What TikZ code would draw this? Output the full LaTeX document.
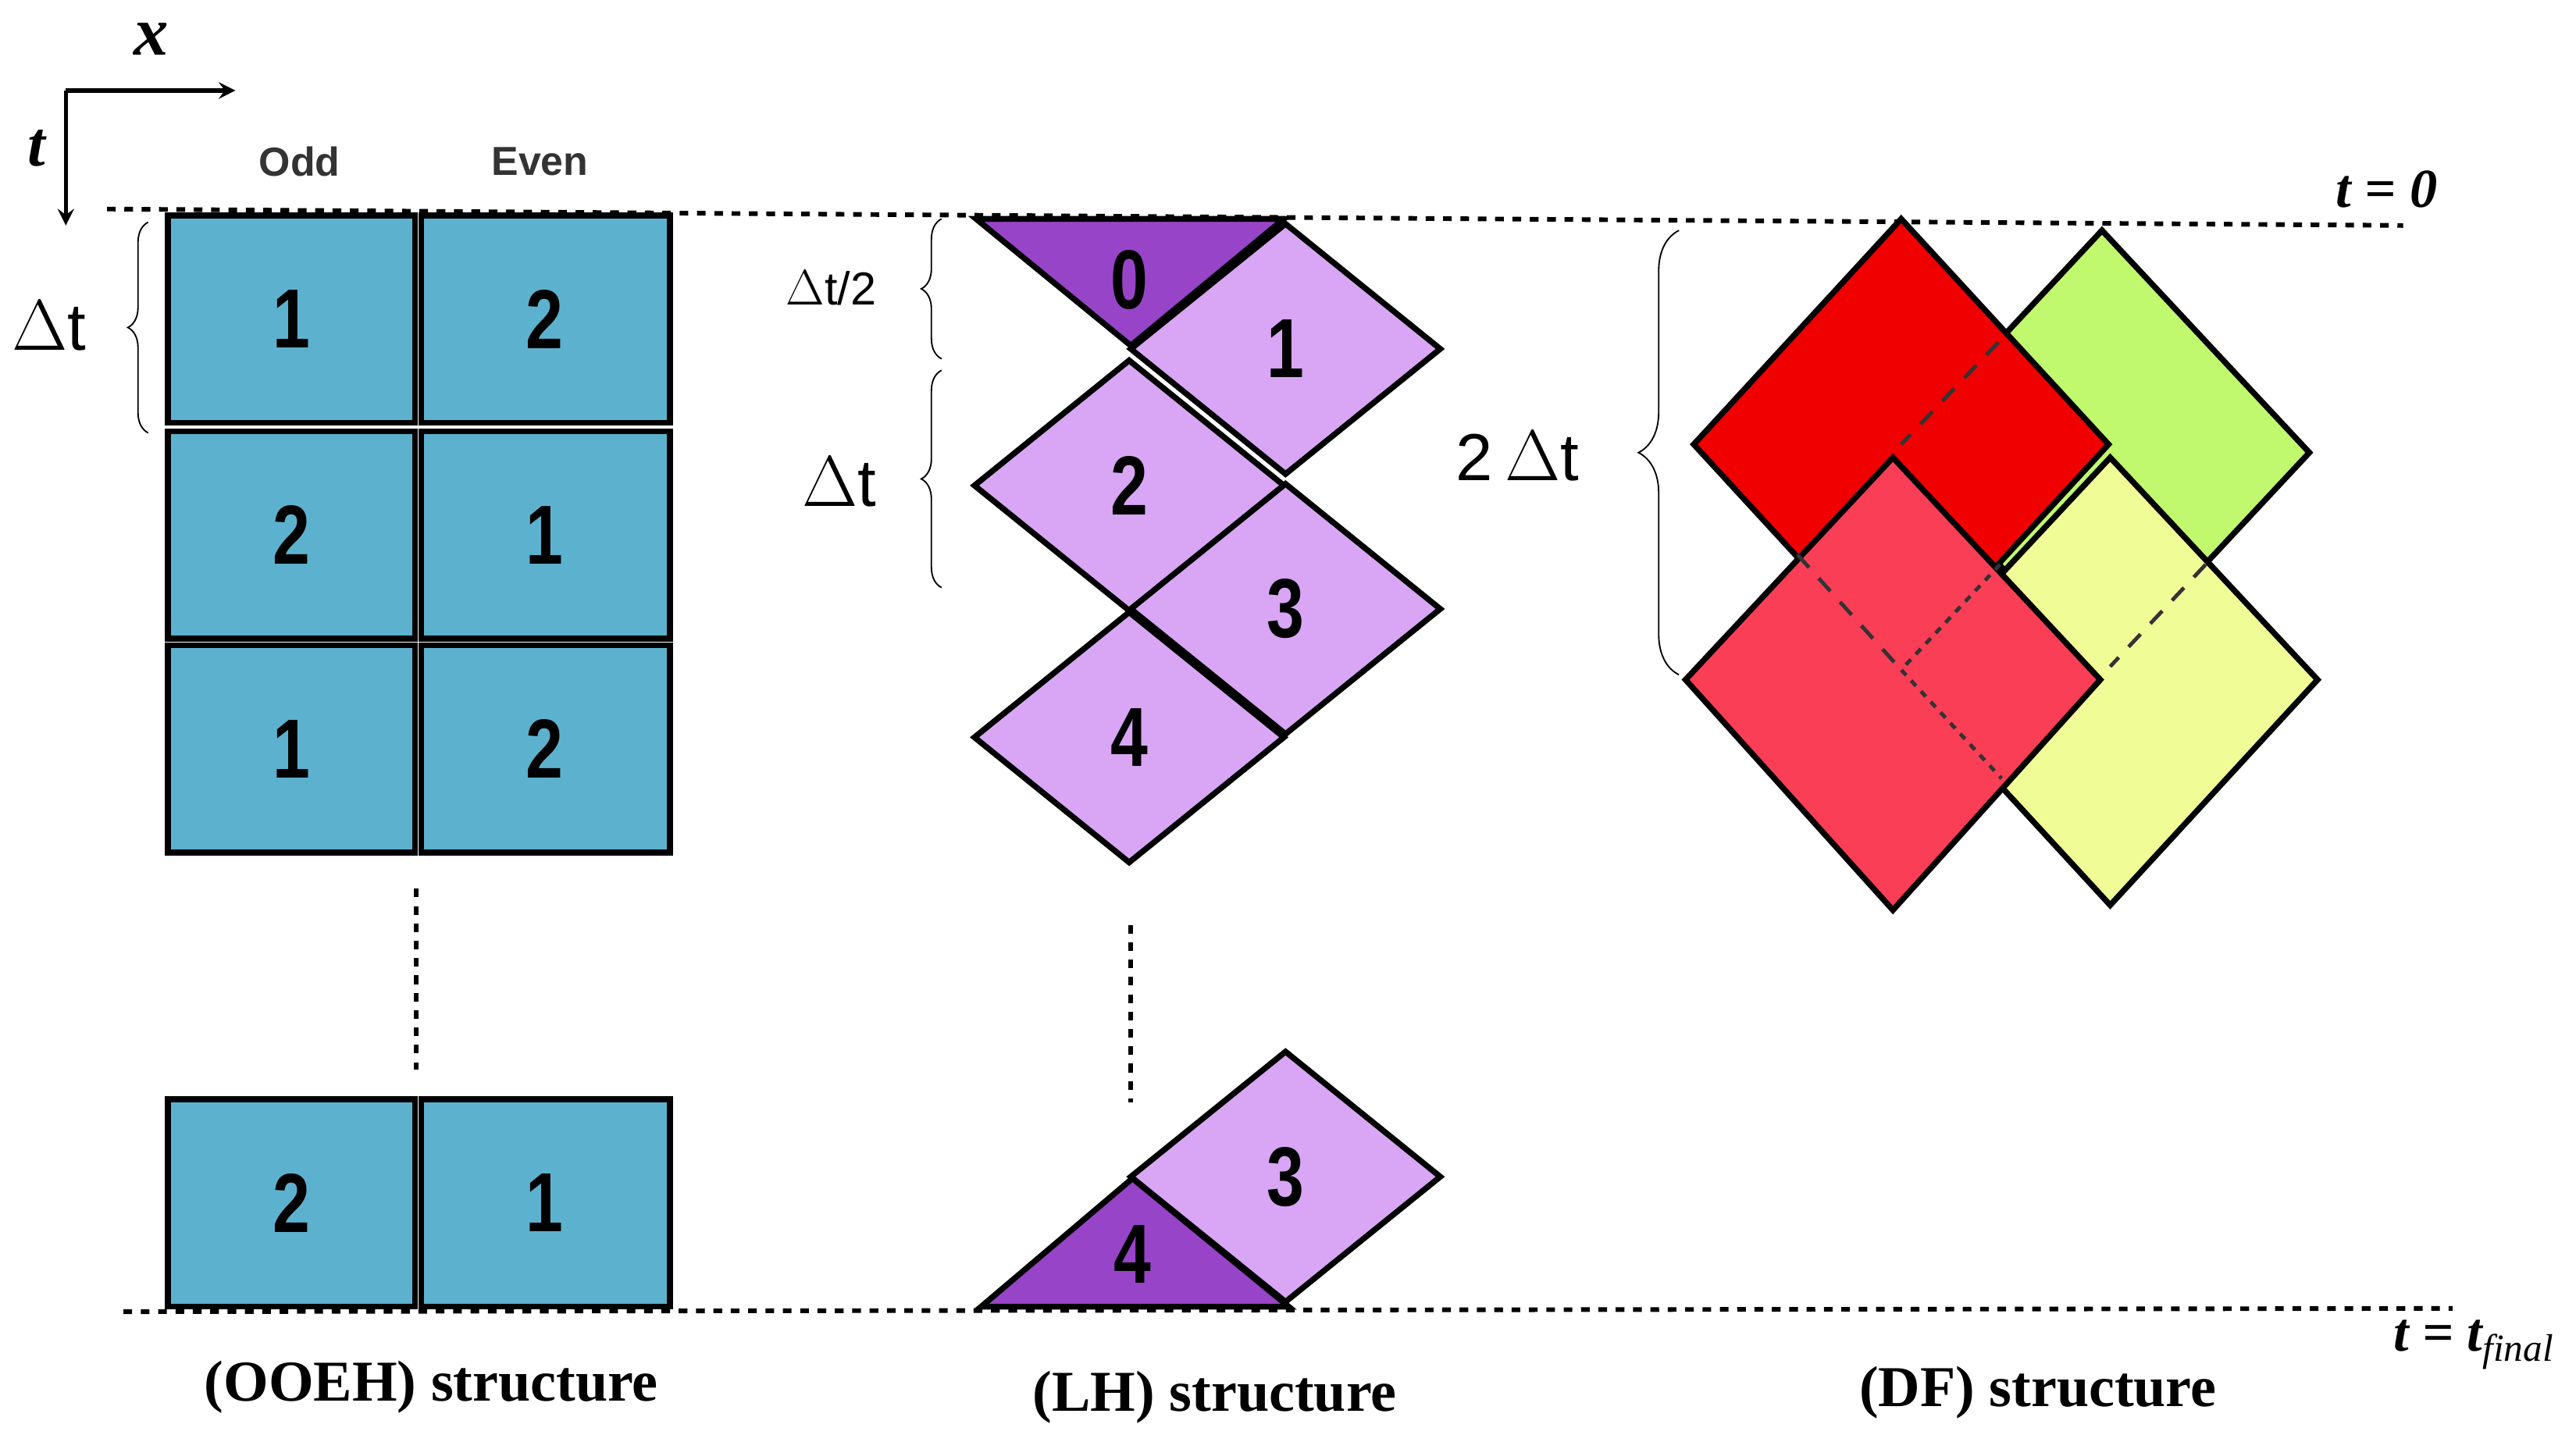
\documentclass[tikz,border=0pt]{standalone}
\usepackage{fontspec}
\setmainfont{Liberation Serif}
\newfontfamily\sansf{Liberation Sans}
\usetikzlibrary{decorations.pathreplacing}
\definecolor{cellblue}{RGB}{92,178,206}
\definecolor{lpurp}{RGB}{216,166,244}
\definecolor{dpurp}{RGB}{152,68,200}
\definecolor{dfred}{RGB}{240,0,0}
\definecolor{dfgreen}{RGB}{192,248,110}
\definecolor{dfpink}{RGB}{250,62,86}
\definecolor{dfyel}{RGB}{240,252,150}
\begin{document}
\begin{tikzpicture}[x=0.02cm,y=-0.02cm,
  num/.style={font=\sansf\bfseries\fontsize{29}{29}\selectfont,xscale=0.8},
  cell/.style={draw=black,line width=2pt,fill=cellblue},
  lh/.style={draw=black,line width=2pt,fill=lpurp},
  lhd/.style={draw=black,line width=2pt,fill=dpurp},
  df/.style={draw=black,line width=2pt},
  brc/.style={decorate,decoration={brace,amplitude=7pt},line width=0.5pt},
  lbl/.style={font=\sansf\fontsize{23}{23}\selectfont},
  captxt/.style={font=\bfseries\fontsize{20}{20}\selectfont},
  dotl/.style={line width=1.6pt,dash pattern=on 3pt off 3pt}]
\useasboundingbox (0,0) rectangle (1565,876);
% axes
\coordinate (o) at (40,55);
\coordinate (xe) at (143,55);
\coordinate (te) at (40,137);
\draw[line width=1.5pt,-stealth] (o) -- (xe);
\draw[line width=1.5pt,-stealth] (o) -- (te);
\node[font=\bfseries\itshape\fontsize{24}{24}\selectfont] (xl) at (92,24) {x};
\node[font=\bfseries\itshape\fontsize{22}{22}\selectfont] (tl) at (22,90) {t};
\node[font=\sansf\bfseries\fontsize{14}{14}\selectfont,text=black!80] (odd) at (182,98) {Odd};
\node[font=\sansf\bfseries\fontsize{14}{14}\selectfont,text=black!80] (even) at (328,98) {Even};
% time lines
\coordinate (t0a) at (65,127); \coordinate (t0b) at (1460,137);
\coordinate (tfa) at (75,797); \coordinate (tfb) at (1490,795);
\draw[dotl] (t0a) -- (t0b);
\draw[dotl] (tfa) -- (tfb);
\node[font=\bfseries\itshape\fontsize{19}{19}\selectfont] (t0) at (1450,115) {t = 0};
\node[font=\bfseries\itshape\fontsize{19}{19}\selectfont] (tf) at (1503,817) {t = t$_{\mathbf{\mathit{final}}}$};
% OOEH
\foreach \y/\a/\b/\n in {131/1/2/a,262/2/1/b,392/1/2/c,668/2/1/d}{
  \draw[cell] (102,\y) rectangle ++(150,126);
  \draw[cell] (256,\y) rectangle ++(151,126);
  \node[num] (o\n) at (177,\y+63) {\a};
  \node[num] (e\n) at (331,\y+63) {\b};
}
\coordinate (v1) at (253,540); \coordinate (v2) at (253,650);
\draw[dotl] (v1) -- (v2);
\draw[brc] (90,263) -- (90,135);
\node[lbl] (dt1) at (30,198) {$\Delta$t};
% LH
\draw[lhd] (593,133) -- (780,133) -- (687,210) -- cycle;
\node[num] (l0) at (686,170) {0};
\foreach \cx/\cy/\n in {781/212/1,686/295/2,781/370/3,686/448/4,781/715/3}{
  \draw[lh] (\cx,\cy-76) -- (\cx+94,\cy) -- (\cx,\cy+76) -- (\cx-94,\cy) -- cycle;
  \node[num] at (\cx,\cy) {\n};
}
\draw[lhd] (596,794) -- (783,794) -- (688,716) -- cycle;
\node[num] (l4b) at (688,762) {4};
\coordinate (v3) at (687,562); \coordinate (v4) at (687,670);
\draw[dotl] (v3) -- (v4);
\draw[brc] (572,218) -- (572,133);
\node[font=\sansf\fontsize{16}{16}\selectfont] (dth) at (505,175) {$\Delta$t/2};
\draw[brc] (572,357) -- (572,225);
\node[lbl] (dt2) at (510,293) {$\Delta$t};
% DF
\draw[df,fill=dfgreen] (1277,140) -- (1403,275) -- (1277,410) -- (1151,275) -- cycle;
\draw[df,fill=dfyel] (1282,278) -- (1408,413) -- (1282,550) -- (1156,413) -- cycle;
\draw[df,fill=dfred] (1155,133) -- (1281,270) -- (1155,407) -- (1029,270) -- cycle;
\draw[df,fill=dfpink] (1150,278) -- (1276,413) -- (1150,553) -- (1024,413) -- cycle;
\draw[line width=1.3pt,dash pattern=on 6pt off 5pt,black!80] (1214,208) -- (1155,270);
\draw[line width=1.3pt,dash pattern=on 6pt off 5pt,black!80] (1092,337) -- (1155,407);
\draw[line width=1.3pt,dash pattern=on 2.5pt off 2.5pt,black!80] (1215,343) -- (1155,407) -- (1216,473);
\draw[line width=1.3pt,dash pattern=on 6pt off 5pt,black!80] (1340,343) -- (1282,405);
\draw[brc,decoration={brace,amplitude=14pt}] (1020,410) -- (1020,140);
\node[lbl] (dt3) at (922,277) {2$\,\Delta$t};
% captions
\node[captxt] (c1) at (262,843) {(OOEH) structure};
\node[captxt] (c2) at (738,849) {(LH) structure};
\node[captxt] (c3) at (1238,846) {(DF) structure};
\end{tikzpicture}
\end{document}
